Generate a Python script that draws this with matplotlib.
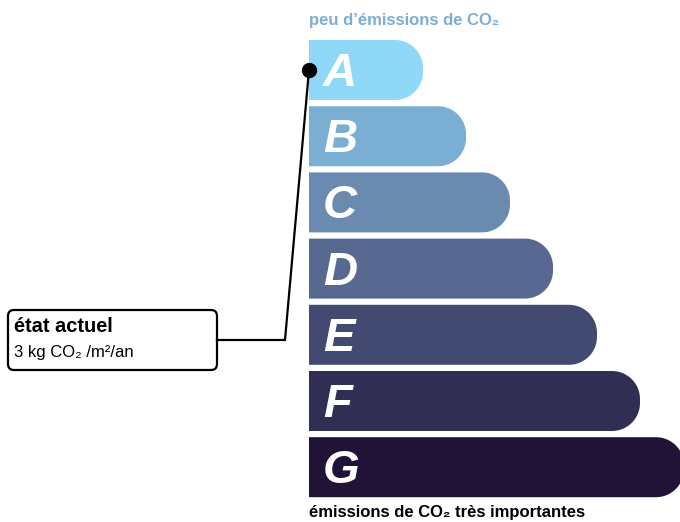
import matplotlib
matplotlib.use("Agg")
import matplotlib.pyplot as plt
from matplotlib.patches import Polygon, FancyBboxPatch
import numpy as np

plt.rcParams['font.family'] = ['Liberation Sans', 'DejaVu Sans']

# energy label classes, bar lengths (px from left edge) and colours
classes = ['A', 'B', 'C', 'D', 'E', 'F', 'G']
lengths = [114, 157, 201, 244, 288, 331, 375]
colors = ['#8fd8f8', '#7aaed2', '#6a8ab0', '#576990', '#424a72', '#312e54', '#211338']
current_class = 'A'
current_value = '3 kg CO\u2082 /m\u00b2/an'
top_label = 'peu d\u2019\u00e9missions de CO\u2082'
bottom_label = '\u00e9missions de CO\u2082 tr\u00e8s importantes'

fig = plt.figure(figsize=(6.8, 5.22), dpi=100)
ax = fig.add_axes([0, 0, 1, 1])
ax.set_xlim(0, 680)
ax.set_ylim(522, 0)
ax.axis('off')

x0 = 309
top0 = 40
pitch = 66.2
h = 60
r = 28


def bar_shape(x0, y0, length, h, r):
    x1 = x0 + length
    # top-right arc then bottom-right arc
    t1 = np.linspace(-np.pi / 2, 0, 20)
    t2 = np.linspace(0, np.pi / 2, 20)
    arc1 = np.column_stack([x1 - r + r * np.cos(t1), y0 + r + r * np.sin(t1)])
    arc2 = np.column_stack([x1 - r + r * np.cos(t2), y0 + h - r + r * np.sin(t2)])
    pts = np.vstack([[[x0, y0]], arc1, arc2, [[x0, y0 + h]]])
    return pts


for i, (c, L, col) in enumerate(zip(classes, lengths, colors)):
    y0 = top0 + i * pitch
    ax.add_patch(Polygon(bar_shape(x0, y0, L, h, r), closed=True,
                         facecolor=col, edgecolor='none', clip_on=False))
    ax.text(x0 + 14, y0 + h / 2 + 4, c, color='white', fontsize=34,
            fontweight='bold', fontstyle='italic', va='center', ha='left')

ax.text(x0, 20, top_label, color='#7aaed2', fontsize=12, fontweight='bold',
        va='center', ha='left')
ax.text(x0, 512, bottom_label, color='black', fontsize=12, fontweight='bold',
        va='center', ha='left')

# indicator box
box = FancyBboxPatch((8, 310), 209, 60, boxstyle='round,pad=0,rounding_size=6',
                     facecolor='white', edgecolor='black', linewidth=1.6)
ax.add_patch(box)
ax.text(14, 327, '\u00e9tat actuel', fontsize=14.4, fontweight='bold',
        va='center', ha='left')
ax.text(14, 353, current_value, fontsize=12, va='center', ha='left')

# connector line to current class
ci = classes.index(current_class)
ty = top0 + ci * pitch + 30
ax.plot([217, 285, x0], [340, 340, ty], color='black', lw=1.6,
        solid_joinstyle='miter')
ax.plot([x0], [ty], 'o', color='black', markersize=10)

fig.savefig('out.png', dpi=100)
